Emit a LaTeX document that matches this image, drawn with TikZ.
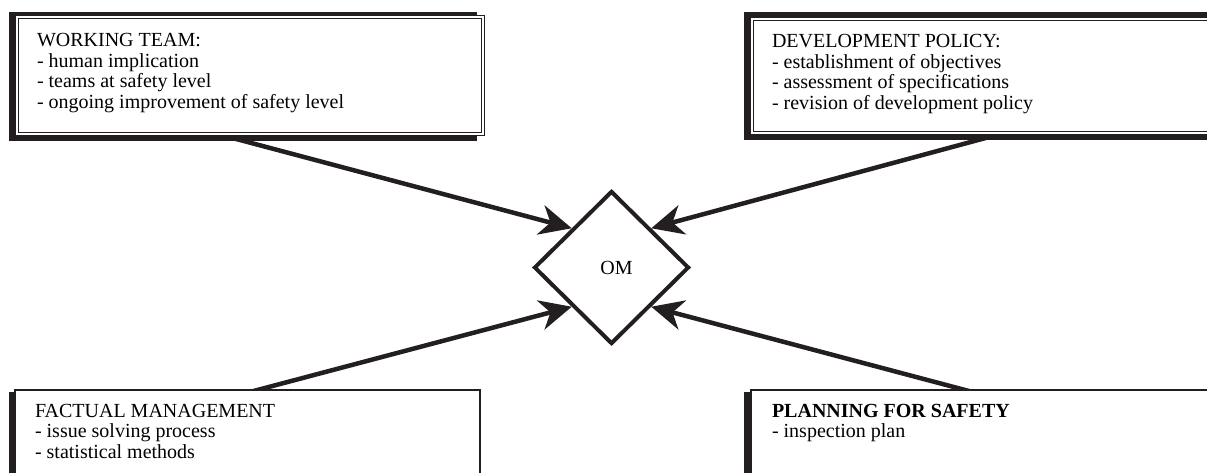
\documentclass[tikz,border=0pt]{standalone}
\usepackage{fontspec}
\setmainfont{Liberation Serif}
\usetikzlibrary{shapes.geometric,arrows.meta}
\pgfdeclarelayer{bg}
\pgfsetlayers{bg,main}
\definecolor{ink}{RGB}{35,31,32}
\newcommand{\firstline}{\rule{0pt}{15pt}}
\begin{document}
\begin{tikzpicture}[x=1pt,y=-1pt,
  shadebox/.style={fill=ink, inner sep=0pt, outer sep=0pt, anchor=north west},
  dframe/.style={draw=ink, fill=white, line width=0.9pt, double=white, double distance=1.4pt,
                 inner sep=0pt, outer sep=0pt, anchor=north west},
  sframe/.style={draw=ink, fill=white, line width=1.5pt, inner sep=0pt, outer sep=0pt, anchor=north west},
  txt/.style={anchor=north west, inner sep=0pt, outer sep=0pt, align=left, text=black,
              font=\rmfamily\fontsize{20pt}{20.7pt}\selectfont},
  arr/.style={draw=ink, line width=4.5pt, -{Stealth[length=32pt, width=30pt, inset=10pt]}}]
\useasboundingbox (0,0) rectangle (1207,473);
\clip (0,0) rectangle (1207,473);

% diamond
\node[diamond, draw=ink, line width=4pt, minimum width=155pt, minimum height=153pt,
      inner sep=0pt, font=\fontsize{20pt}{20pt}\selectfont] (OM) at (611.5,267.5) {\hspace*{10pt}OM};

% top-left box
\node[shadebox, minimum width=468pt, minimum height=129pt] (tlshade) at (9,12) {};
\node[dframe, minimum width=466pt, minimum height=117pt] (tlframe) at (17,17) {};
\node[txt] (tltext) at (37,31.5) {\firstline WORKING TEAM:\\- human implication\\- teams at safety level\\- ongoing improvement of safety level};

% top-right box
\node[shadebox, minimum width=480pt, minimum height=128pt] (trshade) at (744,12) {};
\node[dframe, minimum width=470pt, minimum height=114pt] (trframe) at (752,19) {};
\node[txt] (trtext) at (772,32.5) {\firstline DEVELOPMENT POLICY:\\- establishment of objectives\\- assessment of specifications\\- revision of development policy};

% bottom-left box
\node[shadebox, minimum width=465pt, minimum height=100pt] (blshade) at (9,392) {};
\node[sframe, minimum width=465pt, minimum height=100pt] (blframe) at (15,390) {};
\node[txt] (bltext) at (35,402) {\firstline FACTUAL MANAGEMENT\\- issue solving process\\- statistical methods};

% bottom-right box
\node[shadebox, minimum width=480pt, minimum height=100pt] (brshade) at (744,392) {};
\node[sframe, minimum width=480pt, minimum height=100pt] (brframe) at (751,390) {};
\node[txt] (brtext) at (772,402) {\firstline\textbf{PLANNING FOR SAFETY}\\- inspection plan};

% arrows
\begin{pgfonlayer}{bg}
\draw[arr] ([xshift=216pt,yshift=5pt]tlshade.south west) -- (OM.north west);
\draw[arr] ([xshift=249pt,yshift=4pt]trshade.south west) -- (OM.north east);
\draw[arr] ([xshift=223.5pt,yshift=-5pt]blframe.north west) -- (OM.south west);
\draw[arr] ([xshift=233pt,yshift=-5pt]brframe.north west) -- (OM.south east);
\end{pgfonlayer}
\end{tikzpicture}
\end{document}
